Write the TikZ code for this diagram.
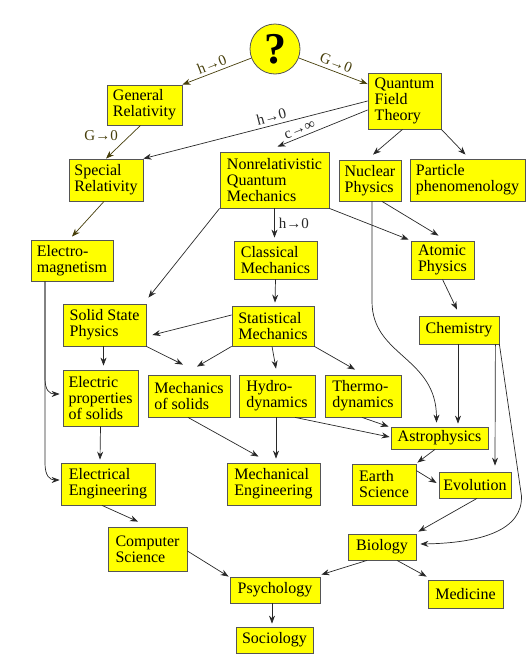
\documentclass[tikz,border=0pt]{standalone}
\usepackage{fontspec}
\setmainfont{Liberation Serif}
\usetikzlibrary{arrows.meta}
\definecolor{boxyellow}{RGB}{255,255,0}
\definecolor{boxline}{RGB}{85,85,85}
\definecolor{edgegray}{RGB}{40,40,40}
\definecolor{edgeolive}{RGB}{70,62,10}

\begin{document}
\begin{tikzpicture}[x=1pt, y=-1pt,
  box/.style={draw=boxline, fill=boxyellow, line width=0.8pt, align=left, inner sep=0pt, font=\fontsize{16}{16}\selectfont},
  arr/.style={-{Stealth[length=8pt,width=6pt]}, edgegray, line width=0.7pt},
  oarr/.style={arr, edgeolive},
  lbl/.style={font=\fontsize{15}{15}\selectfont, inner sep=1pt}]
\useasboundingbox (0,0) rectangle (531,664);

% top
\node[circle, draw=boxline, fill=boxyellow, line width=0.8pt, minimum size=50pt, inner sep=0pt, font=\fontsize{44}{44}\selectfont\bfseries] (q) at (275,49) {?};
\node[box, minimum width=75pt, minimum height=40pt] (gr) at (144.5,105) {General\\Relativity};
\node[box, minimum width=73pt, minimum height=56pt] (qft) at (404.5,101) {Quantum\\Field\\Theory};
\node[box, minimum width=74pt, minimum height=42pt] (sr) at (106,180) {Special\\Relativity};
\node[box, minimum width=109pt, minimum height=56pt] (nrqm) at (274.5,180) {Nonrelativistic\\Quantum\\Mechanics};
\node[box, minimum width=62pt, minimum height=41pt] (nuc) at (370,180.5) {Nuclear\\Physics};
\node[box, minimum width=115pt, minimum height=42pt] (part) at (467.5,180) {Particle\\phenomenology};

% middle
\node[box, minimum width=82pt, minimum height=41pt] (em) at (72,260.5) {Electro-\\magnetism};
\node[box, minimum width=83pt, minimum height=38pt] (cm) at (275.5,260) {Classical\\Mechanics};
\node[box, minimum width=63pt, minimum height=38pt] (atom) at (442.5,260) {Atomic\\Physics};
\node[box, minimum width=80pt, minimum height=28pt] (chem) at (459,330) {Chemistry};
\node[box, minimum width=83pt, minimum height=42pt] (ssp) at (104.5,325) {Solid State\\Physics};
\node[box, minimum width=82pt, minimum height=40pt] (stat) at (273,326) {Statistical\\Mechanics};
\node[box, minimum width=75pt, minimum height=56pt] (epos) at (100.5,398) {Electric\\properties\\of solids};
\node[box, minimum width=82pt, minimum height=42pt] (mos) at (189,396) {Mechanics\\of solids};
\node[box, minimum width=76pt, minimum height=42pt] (hydro) at (277,396) {Hydro-\\dynamics};
\node[box, minimum width=76pt, minimum height=42pt] (thermo) at (363,396) {Thermo-\\dynamics};
\node[box, minimum width=97pt, minimum height=22pt] (astro) at (439.5,438) {Astrophysics};

% bottom
\node[box, minimum width=72pt, minimum height=26pt] (evo) at (475,485) {Evolution};
\node[box, minimum width=64pt, minimum height=41pt] (earth) at (384,484.5) {Earth\\Science};
\node[box, minimum width=94pt, minimum height=42pt] (ee) at (108,484) {Electrical\\Engineering};
\node[box, minimum width=93pt, minimum height=42pt] (me) at (273.5,484) {Mechanical\\Engineering};
\node[box, minimum width=79pt, minimum height=44pt] (cs) at (147.5,549) {Computer\\Science};
\node[box, minimum width=68pt, minimum height=26pt] (bio) at (382,547) {Biology};
\node[box, minimum width=90pt, minimum height=26pt] (psy) at (275,590) {Psychology};
\node[box, minimum width=75pt, minimum height=28pt] (med) at (465.5,594) {Medicine};
\node[box, minimum width=77pt, minimum height=26pt] (soc) at (274.5,640) {Sociology};

% limits
\draw[oarr] (q) -- node[lbl, sloped, above=2pt, pos=.53] {h→0} (gr.north east);
\draw[oarr] (q) -- node[lbl, sloped, above=2pt, pos=.5] {G→0} ([yshift=17pt]qft.west);
\draw[oarr] ([xshift=-4pt]gr.south) -- node[lbl, left=11pt, pos=.3] {G→0} (sr.north);
\draw[arr] (qft.west) -- node[lbl, sloped, above=2pt, pos=.42] {h→0} (sr.north east);
\draw[arr] ([yshift=-9pt]qft.west) -- node[lbl, sloped, above=2pt, pos=.72] {c→∞} ([xshift=3pt,yshift=5pt]nrqm.north);
\draw[arr] ([xshift=-2pt]qft.south) -- ([xshift=3pt,yshift=5pt]nuc.north);
\draw[arr] (qft.south east) -- ([xshift=-2pt,yshift=4pt]part.north);
\draw[oarr] ([xshift=-2pt]sr.south) -- ([yshift=3pt]em.north);
\draw[arr] (nrqm.south west) -- ([xshift=2pt,yshift=6pt]ssp.north east);
\draw[arr] (nrqm.south) -- node[lbl, right=3pt] {h→0} ([xshift=-1pt,yshift=3pt]cm.north);
\draw[arr] (nrqm.south east) -- ([xshift=-2pt,yshift=1pt]atom.north west);
\draw[arr] ([xshift=12pt]nuc.south) -- ([xshift=-4pt,yshift=5pt]atom.north);
\draw[arr] ([xshift=2pt]nuc.south) -- ([xshift=2pt,yshift=-100pt]nuc.south)
  .. controls ([xshift=2pt,yshift=-155pt]nuc.south) and ([xshift=-3pt,yshift=70pt]astro.north) .. ([xshift=-3pt,yshift=4pt]astro.north);
\draw[arr] (atom.south) -- ([xshift=-2pt,yshift=6pt]chem.north);

% mechanics
\draw[arr] (cm.south) -- ([xshift=2pt,yshift=3pt]stat.north);
\draw[arr] ([yshift=11pt]stat.west) -- ([xshift=6pt,yshift=-10pt]ssp.east);
\draw[arr] (stat.south west) -- ([xshift=8pt,yshift=8pt]mos.north);
\draw[arr] (ssp.south east) -- ([xshift=-6pt,yshift=10pt]mos.north);
\draw[arr] ([xshift=-1pt]ssp.south) -- ([xshift=3pt,yshift=4pt]epos.north);
\draw[arr] ([xshift=-1pt]stat.south) -- ([xshift=-1pt,yshift=6pt]hydro.north);
\draw[arr] (stat.south east) -- ([xshift=-8pt,yshift=5pt]thermo.north);
\draw[arr] ([xshift=-27pt]em.south) -- ([xshift=-27pt,yshift=-97pt]em.south)
  .. controls ([xshift=-27pt,yshift=-109pt]em.south) and ([xshift=-13pt,yshift=4pt]epos.west) .. ([xshift=-3pt,yshift=4pt]epos.west);
\draw[arr] ([xshift=-27pt]em.south) -- ([xshift=-27pt,yshift=-182pt]em.south)
  .. controls ([xshift=-27pt,yshift=-194pt]em.south) and ([xshift=-11pt,yshift=4pt]ee.west) .. ([xshift=-1pt,yshift=4pt]ee.west);
\draw[arr] (epos.south) -- ([xshift=-8pt,yshift=3pt]ee.north);
\draw[arr] ([xshift=-1pt]mos.south) -- ([xshift=-15pt,yshift=6pt]me.north);
\draw[arr] ([xshift=-1pt]hydro.south) -- ([xshift=2.5pt,yshift=4pt]me.north);
\draw[arr] ([xshift=18pt]hydro.south) -- ([xshift=-1pt,yshift=1pt]astro.west);
\draw[arr] ([xshift=-1pt]thermo.south) -- ([xshift=-2pt]astro.north west);

% chemistry and life
\draw[arr] ([xshift=-1pt]chem.south) -- ([xshift=18.5pt,yshift=3pt]astro.north);
\draw[arr] ([xshift=-4pt]chem.south east) -- ([xshift=20pt,yshift=6pt]evo.north);
\draw[arr] (chem.south east) -- ([xshift=22pt,yshift=-151pt]chem.south east)
  .. controls ([xshift=24pt,yshift=-186pt]chem.south east) and ([xshift=64pt,yshift=4pt]bio.east) .. ([xshift=4pt,yshift=3pt]bio.east);
\draw[arr] ([xshift=-4.5pt]astro.south) -- ([xshift=1pt,yshift=1pt]earth.north east);
\draw[arr] ([yshift=-7pt]earth.north east) -- ([xshift=-2pt,yshift=2pt]evo.west);
\draw[arr] ([xshift=2pt]evo.south) -- ([xshift=2pt,yshift=2pt]bio.north east);
\draw[arr] ([xshift=-6pt]ee.south) -- ([xshift=-9.5pt,yshift=5pt]cs.north);
\draw[arr] ([yshift=-2pt]cs.east) -- ([xshift=-1pt]psy.north west);
\draw[arr] ([xshift=-15pt]bio.south) -- ([xshift=1pt,yshift=2pt]psy.north east);
\draw[arr] ([xshift=15pt]bio.south) -- ([xshift=-1pt,yshift=3pt]med.north west);
\draw[arr] ([xshift=-3pt]psy.south) -- ([xshift=-2.5pt,yshift=3pt]soc.north);
\end{tikzpicture}
\end{document}
